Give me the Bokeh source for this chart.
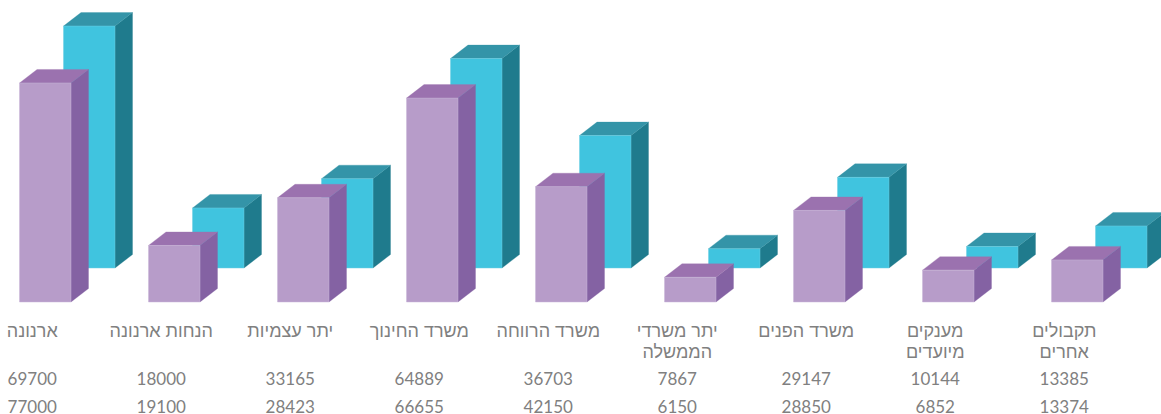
from bokeh.plotting import figure
from bokeh.models import Range1d
from bokeh.core.properties import value
from bokeh.embed import file_html
from bokeh.resources import INLINE

categories = [["ארנונה"], ["הנחות ארנונה"], ["יתר עצמיות"], ["משרד החינוך"], ["משרד הרווחה"],
              ["יתר משרדי", "הממשלה"], ["משרד הפנים"], ["מענקים", "מיועדים"], ["תקבולים", "אחרים"]]
front_values = [69700, 18000, 33165, 64889, 36703, 7867, 29147, 10144, 13385]
back_values = [77000, 19100, 28423, 66655, 42150, 6150, 28850, 6852, 13374]

W, H = 1161, 414
PITCH = 129.0          # px between categories
LEFT = 19.0            # px of first bar
BASE = 301.5           # px of zero line
PER_PX = 318.25        # value per px
BAR_W = 51.5 / PITCH
DX = 17.5 / PITCH
DY = 13.5 * PER_PX
BACK_DX = 44.0 / PITCH
BACK_DY = 34.0 * PER_PX

p = figure(width=W, height=H, output_backend="svg", toolbar_location=None,
           x_range=Range1d(-LEFT / PITCH, (W - LEFT) / PITCH),
           y_range=Range1d(-(H - BASE) * PER_PX, BASE * PER_PX),
           min_border=0, outline_line_color=None, background_fill_color="white")
p.axis.visible = False
p.grid.visible = False
p.styles = {"position": "absolute", "left": "0", "top": "0"}


def faces(values, ox, oy):
    fx, fy, sx, sy, tx, ty = [], [], [], [], [], []
    for i, v in enumerate(values):
        l, r = i + ox, i + ox + BAR_W
        b, t = oy, oy + v
        fx.append([l, r, r, l]); fy.append([b, b, t, t])
        sx.append([r, r + DX, r + DX, r]); sy.append([b, b + DY, t + DY, t])
        tx.append([l, r, r + DX, l + DX]); ty.append([t, t, t + DY, t + DY])
    return fx, fy, sx, sy, tx, ty


def draw(values, ox, oy, c_front, c_side, c_top, c_edge):
    fx, fy, sx, sy, tx, ty = faces(values, ox, oy)
    p.patches(sx, sy, fill_color=c_side, line_color=c_side, line_width=0.3)
    p.patches(tx, ty, fill_color=c_top, line_color=c_top, line_width=0.3)
    p.patches(fx, fy, fill_color=c_front, line_color=c_edge, line_width=0.5)


draw(back_values, BACK_DX, BACK_DY, "#40c4df", "#1f7b8d", "#3494a8", "#6fcfe3")
draw(front_values, 0.0, 0.0, "#b79cc9", "#8462a3", "#9b72af", "#c9b6d8")

TEXT = "#808080"
CENTER = 13.0 / PITCH  # labels sit left of the bar centre
xs = [i + BAR_W / 2 - CENTER for i in range(len(categories))]

lx, ly, lo = [], [], []
for x, lines in zip(xs, categories):
    for k, s in enumerate(lines):
        lx.append(x); ly.append(s); lo.append(330.5 - BASE + 21 * k)
p.text(x=lx, y=[0] * len(lx), text=ly, y_offset=lo, text_align="center", text_baseline="middle",
       text_font=value("Liberation Sans"), text_font_size="18px", text_color=TEXT)
p.text(x=xs, y=[0] * len(xs), text=[str(v) for v in front_values], y_offset=378 - BASE,
       text_align="center", text_baseline="middle",
       text_font=value("Lato"), text_font_size="17px", text_color=TEXT)
p.text(x=xs, y=[0] * len(xs), text=[str(v) for v in back_values], y_offset=406 - BASE,
       text_align="center", text_baseline="middle",
       text_font=value("Lato"), text_font_size="17px", text_color=TEXT)

open("out.html", "w").write(file_html(p, INLINE))
